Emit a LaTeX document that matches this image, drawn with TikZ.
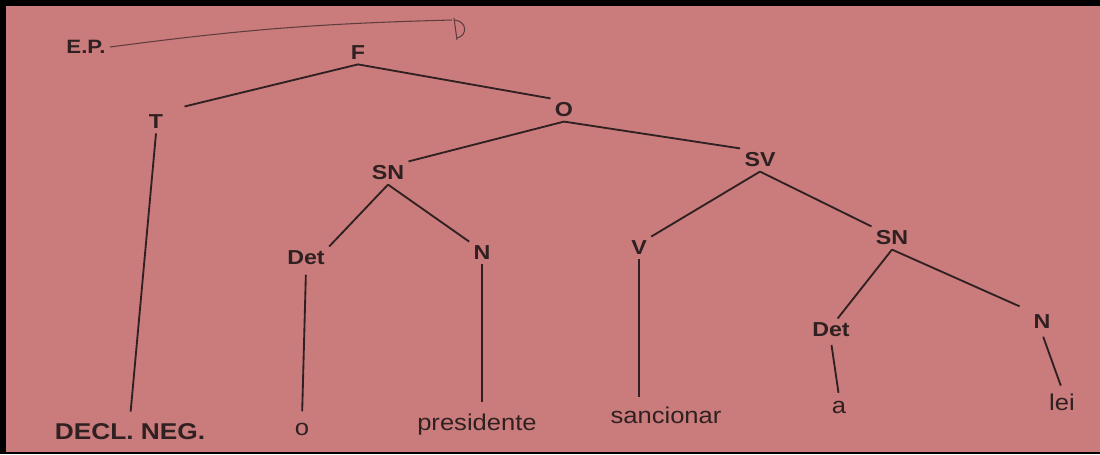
\documentclass[tikz,border=0pt]{standalone}
\usepackage{fontspec}
\setmainfont{Liberation Sans}
\newfontfamily\catfont[FakeStretch=1.15]{Liberation Sans}
\newfontfamily\epfont[FakeStretch=1.15]{Liberation Sans}
\newfontfamily\wordfont[FakeStretch=1.12]{Liberation Sans}
\newfontfamily\declfont[FakeStretch=1.15]{Liberation Sans}
\definecolor{paper}{RGB}{201,124,123}
\definecolor{ink}{RGB}{48,32,34}
\definecolor{pencil}{RGB}{95,60,62}

\begin{document}
\begin{tikzpicture}[
  x=0.02cm,
  y=-0.02cm,
  line width=1.05pt,
  every node/.style={text=ink, inner sep=2pt},
  cat/.style={font=\catfont\bfseries\fontsize{11.5}{13}\selectfont},
  word/.style={anchor=base, font=\wordfont\fontsize{13}{15}\selectfont},
  tag/.style={font=\epfont\bfseries\fontsize{11}{13}\selectfont},
  decltag/.style={anchor=base, font=\declfont\bfseries\fontsize{13}{15}\selectfont}
]
\fill[paper] (0,0) rectangle (1100,454);
\fill[black] (0,0) rectangle (1100,6);
\fill[black] (0,0) rectangle (6,454);
\fill[black] (0,452) rectangle (1100,454);
\useasboundingbox (0,0) rectangle (1100,454);

\node[tag] (EP) at (86,47) {E.P.};
\coordinate (pen) at (452,20);
\node[cat] (F) at (358,53) {F};
\node[cat] (T) at (156,122) {T};
\node[cat] (O) at (564,110) {O};
\node[cat] (SNa) at (388,173) {SN};
\node[cat] (SV) at (760,160) {SV};
\node[cat] (Deta) at (306,258) {Det};
\node[cat] (Na) at (482,253) {N};
\node[cat] (V) at (639,248) {V};
\node[cat] (SNb) at (892,238) {SN};
\node[cat] (Detb) at (831,330) {Det};
\node[cat] (Nb) at (1042,322) {N};

\node[decltag] (decl) at (130,439) {DECL. NEG.};
\node[word] (o) at (302,435) {o};
\node[word] (pres) at (477,430) {presidente};
\node[word] (sanc) at (666,423) {sancionar};
\node[word] (a) at (839,413) {a};
\node[word] (lei) at (1062,410) {lei};

\draw[pencil, line width=0.6pt] (EP.east) to[bend left=3] (pen);
\draw[pencil, line width=0.6pt] (454,18) -- (457,40);
\draw[pencil, line width=0.6pt] (455,20) .. controls (468,22) and (467,36) .. (457,38);

\draw[ink, shorten >=10pt] (F.south) -- (T.north east);
\draw[ink] (F.south) -- (O.north west);
\draw[ink] (O.south) -- (SNa.north east);
\draw[ink] (O.south) -- (SV.north west);
\draw[ink] (SV.south) -- (V.north east);
\draw[ink] (SV.south) -- (SNb.north west);
\draw[ink] (SNa.south) -- (Deta.north east);
\draw[ink] (SNa.south) -- (Na.north west);
\draw[ink] (SNb.south) -- (Detb.60);
\draw[ink, shorten >=6pt] (SNb.south) -- (Nb.north west);

\draw[ink, shorten >=4pt] (T.south) -- (decl.north);
\draw[ink, shorten <=3pt, shorten >=4pt] (Deta.south) -- (o.north);
\draw[ink, shorten >=4pt] (Na.south) -- (Na.south |- pres.north);
\draw[ink, shorten >=3pt] (V.south) -- (V.south |- sanc.north);
\draw[ink, shorten <=2pt, shorten >=2pt] (Detb.south) -- (a.north);
\draw[ink, shorten <=2pt, shorten >=2pt] (Nb.south) -- (lei.north);
\end{tikzpicture}
\end{document}
